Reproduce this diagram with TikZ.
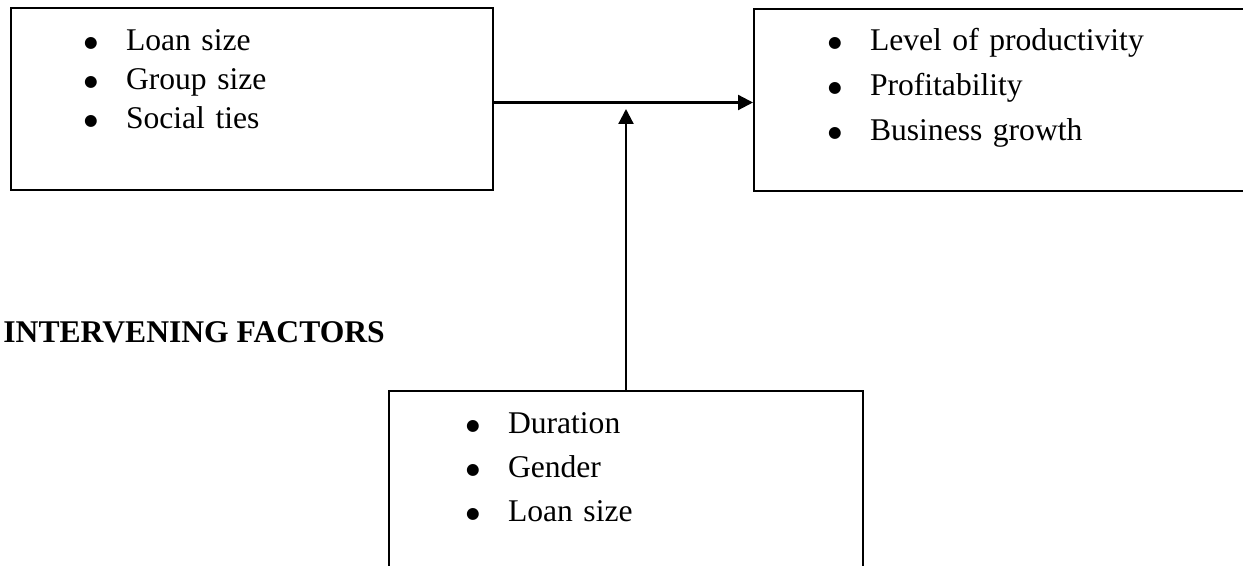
\documentclass[tikz,border=0pt]{standalone}
\usepackage{fontspec}
\setmainfont{Liberation Serif}
\newfontfamily\bulletfont{DejaVu Sans}
\usetikzlibrary{arrows.meta,positioning}
\newcommand{\bitem}[1]{\makebox[21pt][l]{\raisebox{1.6pt}{\bulletfont\fontsize{7.8}{7.8}\selectfont ●}}#1}
\tikzset{
  factorbox/.style={
    draw=black,line width=1pt,anchor=north west,
    inner ysep=0pt,align=left,text height=21.5pt
  },
  arrow/.style={-{Triangle[length=7.5pt,width=7.5pt]},draw=black,line width=1.1pt},
  heading/.style={font=\bfseries\fontsize{15.8}{19}\selectfont,anchor=base west,inner sep=0pt}
}
\begin{document}
\begin{tikzpicture}[x=1pt,y=1pt]
\useasboundingbox (0,0) rectangle (621.5,-283);
\clip (0,0) rectangle (621.5,-283);

\node[factorbox,text width=168pt,inner xsep=36.5pt,text depth=69.5pt,
  font=\fontsize{15.8}{19.5}\selectfont] (lbox) at (5,-3.5)
{\bitem{Loan size}\\ \bitem{Group size}\\ \bitem{Social ties}};

\node[factorbox,right=129.5pt of lbox,yshift=-0.5pt,text width=175.5pt,
  inner xsep=37pt,text height=21pt,text depth=70pt,
  font=\fontsize{15.8}{22.5}\selectfont] (rbox)
{\bitem{Level of productivity}\\ \bitem{Profitability}\\ \bitem{Business growth}};

\node[factorbox,text width=160pt,inner xsep=38.5pt,text depth=73.5pt,
  font=\fontsize{15.8}{22}\selectfont] (bbox) at (194,-195)
{\bitem{Duration}\\ \bitem{Gender}\\ \bitem{Loan size}};

\node[heading] (ivf) at (1.5,-171.5) {INTERVENING FACTORS};

\coordinate[above=140.5pt of bbox.north] (tip);

\draw[arrow] ([yshift=-1.75pt]lbox.east) -- ([yshift=-1.75pt]lbox.east -| rbox.west);
\draw[arrow] (bbox.north) -- (tip);
\end{tikzpicture}
\end{document}
